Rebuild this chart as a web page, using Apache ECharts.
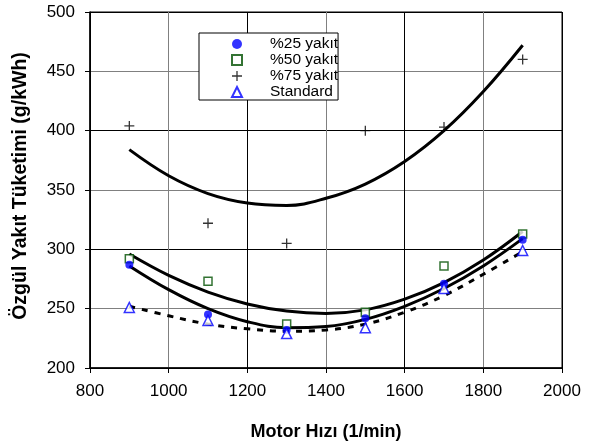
<!DOCTYPE html>
<html>
<head>
<meta charset="utf-8">
<script src="https://cdn.jsdelivr.net/npm/echarts@6/dist/echarts.min.js"></script>
<style>html,body{margin:0;padding:0;background:#fff;}#c{width:592px;height:448px;}</style>
</head>
<body>
<div id="c"></div>
<script>
// measured points
var speeds = [900, 1100, 1300, 1500, 1700, 1900];
var y25 = [287, 245, 232, 242, 271, 308];
var y50 = [292, 273, 237, 247, 286, 313];
var y75 = [404, 322, 305, 400, 403, 460];
var yStd = [251, 240, 229, 234, 267, 299];
// trend curves
var trendX = [900, 1000, 1100, 1200, 1300, 1400, 1500, 1600, 1700, 1800, 1900];
var t25 = [286, 266, 250, 239, 234, 235, 241, 252, 267, 286, 309];
var t50 = [296, 278, 264, 254, 248, 246, 249, 258, 272, 291, 315];
var t75 = [384, 362, 347, 339, 337, 343, 355, 374, 400, 433, 472];
var tStd = [252, 244, 237, 233, 231, 232, 237, 247, 261, 279, 298];
var names = ['%25 yakıt', '%50 yakıt', '%75 yakıt', 'Standard'];

function pairs(xs, ys) { return xs.map(function (x, i) { return [x, ys[i]]; }); }

var plusPath = 'path://M4.35,0H5.65V4.35H10V5.65H5.65V10H4.35V5.65H0V4.35H4.35Z';
var font = 'Liberation Sans, Arial, sans-serif';

var chart = echarts.init(document.getElementById('c'));
function trend(data, dashed) {
  return {
    type: 'line', data: pairs(trendX, data), smooth: 0.4, showSymbol: false, symbol: 'none',
    lineStyle: { color: '#000', width: 3, type: dashed ? [6, 7] : 'solid' },
    silent: true, z: 2
  };
}
function plain(v) { return String(v); }
chart.setOption({
  animation: false,
  grid: { left: 90, right: 30, top: 12, bottom: 80, show: true, borderColor: '#000', borderWidth: 1, containLabel: false },
  legend: {
    data: names, orient: 'vertical', left: 199, top: 33,
    backgroundColor: '#fff', borderColor: '#000', borderWidth: 1,
    padding: [3, 0, 0, 32], itemGap: 0, itemWidth: 10, itemHeight: 10,
    textStyle: { fontFamily: font, fontSize: 15.5, color: '#000', lineHeight: 15, padding: [0, 0, 0, 23] }
  },
  xAxis: {
    type: 'value', min: 800, max: 2000, interval: 200,
    name: 'Motor Hızı (1/min)', nameLocation: 'middle', nameGap: 55,
    nameTextStyle: { fontFamily: font, fontSize: 18, fontWeight: 'bold', color: '#000' },
    axisLine: { show: true, lineStyle: { color: '#000', width: 1.5 } },
    axisTick: { show: true, inside: false, length: 5, lineStyle: { color: '#000' } },
    axisLabel: { fontFamily: font, fontSize: 17, color: '#000', margin: 15, formatter: plain },
    splitLine: { show: true, lineStyle: { color: ['#000', '#808080'], width: 1 } }
  },
  yAxis: {
    type: 'value', min: 200, max: 500, interval: 50,
    axisLine: { show: true, lineStyle: { color: '#000', width: 1.5 } },
    axisTick: { show: true, inside: false, length: 5, lineStyle: { color: '#000' } },
    axisLabel: { fontFamily: font, fontSize: 17, color: '#000', margin: 15, formatter: plain },
    splitLine: { show: true, lineStyle: { color: ['#000', '#808080'], width: 1 } }
  },
  graphic: [{
    type: 'text', x: 21, y: 186, rotation: Math.PI / 2,
    style: { text: 'Özgül Yakıt Tüketimi (g/kWh)', font: 'bold 19.5px ' + font, fill: '#000', align: 'center', verticalAlign: 'middle' }
  }],
  series: [
    trend(t75, false), trend(t50, false), trend(t25, false), trend(tStd, true),
    { name: names[0], type: 'scatter', data: pairs(speeds, y25), symbol: 'circle', symbolSize: 8,
      itemStyle: { color: '#0000ff' }, z: 5 },
    { name: names[1], type: 'scatter', data: pairs(speeds, y50), symbol: 'rect', symbolSize: 8,
      itemStyle: { color: '#fff', borderColor: '#005000', borderWidth: 1.5 }, z: 4 },
    { name: names[2], type: 'scatter', data: pairs(speeds, y75), symbol: plusPath, symbolSize: 10,
      itemStyle: { color: '#000' }, z: 5 },
    { name: names[3], type: 'scatter', data: pairs(speeds, yStd), symbol: 'triangle', symbolSize: 10,
      itemStyle: { color: '#fff', borderColor: '#0000ff', borderWidth: 1.5 }, z: 5 }
  ]
});
</script>
</body>
</html>
